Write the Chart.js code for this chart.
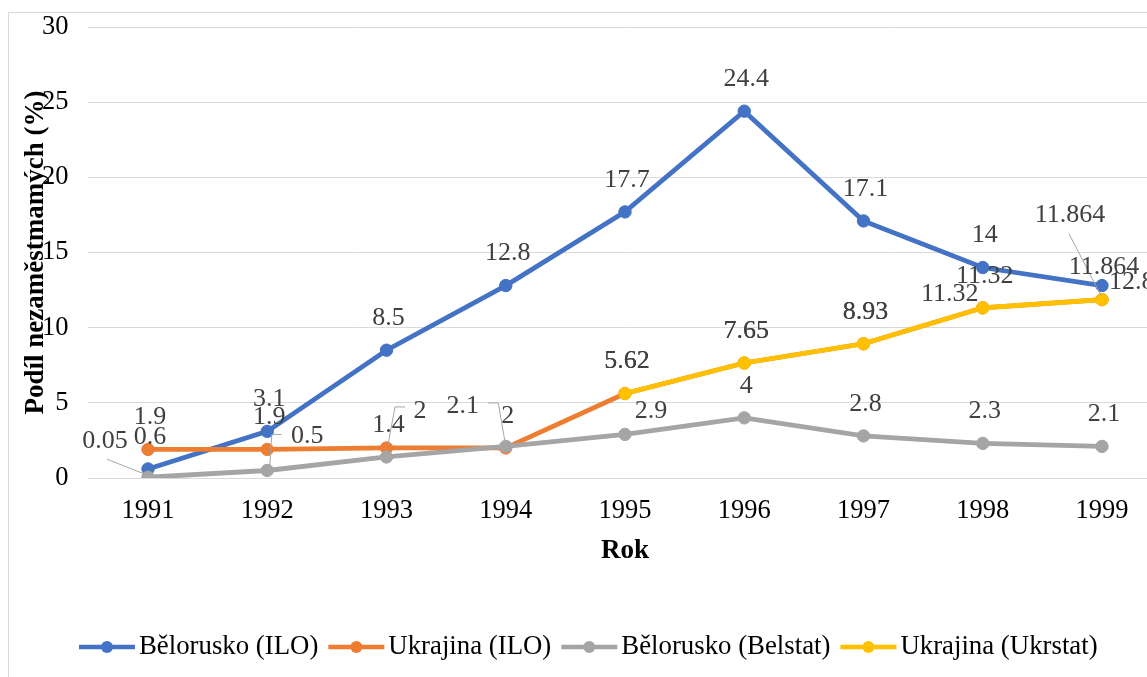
<!DOCTYPE html>
<html><head><meta charset="utf-8">
<script src="https://cdn.jsdelivr.net/npm/chart.js@4"></script>
<style>
html,body{margin:0;padding:0;overflow:hidden;background:#fff;width:1147px;height:677px}
#wrap{position:absolute;left:0;top:0;width:1180px;height:677px}
</style>
</head><body>
<div id="wrap"><canvas id="c" width="1180" height="677"></canvas></div>
<script>
// ---- data ----
const categories = ['1991','1992','1993','1994','1995','1996','1997','1998','1999'];
const seriesNames = ['Bělorusko (ILO)','Ukrajina (ILO)','Bělorusko (Belstat)','Ukrajina (Ukrstat)'];
const belarusILO     = [0.6, 3.1, 8.5, 12.8, 17.7, 24.4, 17.1, 14, 12.8];
const ukraineILO     = [1.9, 1.9, 2, 2, 5.62, 7.65, 8.93, 11.32, 11.864];
const belarusBelstat = [0.05, 0.5, 1.4, 2.1, 2.9, 4, 2.8, 2.3, 2.1];
const ukraineUkrstat = [null, null, null, null, 5.62, 7.65, 8.93, 11.32, 11.864];
const yTickMin = 0, yTickMax = 30, yTickStep = 5;

// ---- styling / label placement (not data) ----
const colors = ['#4472C4','#ED7D31','#A5A5A5','#FFC000'];
const SERIF = '"Liberation Serif","Times New Roman",serif';
const labelPlacement = {
  0: {8: {dx: 7, dy: -3.5, align: 'left'}},
  1: {2: {dx: 33.5, dy: -37, leader: [[18.5,-41],[8.5,-41],[1.5,-3]]},
      8: {dx: -32, dy: -84, leader: [[-33,-66],[-1,-4]]}},
  2: {0: {dx: -43, dy: -36, leader: [[-41,-18],[-3,-3]]},
      1: {dx: 40, dy: -34.5, leader: [[14.5,-36],[4.5,-36],[2.5,-3]]},
      3: {dx: -43, dy: -40.5, leader: [[-17.5,-43.5],[-7.5,-43.5],[-0.5,-3]]},
      4: {dx: 26, dy: -23.5}},
  3: {7: {dx: -33, dy: -14}}
};

const extras = {
  id: 'extras',
  beforeDraw(chart) {
    const ctx = chart.ctx;
    ctx.save();
    ctx.strokeStyle = '#d9d9d9'; ctx.lineWidth = 1;
    ctx.strokeRect(8.5, 12.5, 1300, 800);
    ctx.restore();
  },
  afterDatasetsDraw(chart) {
    const ctx = chart.ctx;
    ctx.save();
    ctx.font = '26px ' + SERIF;
    ctx.textBaseline = 'middle';
    chart.data.datasets.forEach((ds, di) => {
      const meta = chart.getDatasetMeta(di);
      meta.data.forEach((pt, i) => {
        const v = ds.data[i];
        if (v == null) return;
        const p = (labelPlacement[di] || {})[i] || {};
        const dx = p.dx ?? 2, dy = p.dy ?? -32;
        if (p.leader) {
          ctx.strokeStyle = '#a6a6a6'; ctx.lineWidth = 1;
          ctx.beginPath();
          p.leader.forEach(([lx, ly], k) => k ? ctx.lineTo(pt.x + lx, pt.y + ly) : ctx.moveTo(pt.x + lx, pt.y + ly));
          ctx.stroke();
        }
        ctx.fillStyle = '#404040';
        ctx.textAlign = p.align || 'center';
        ctx.fillText(String(v), pt.x + dx, pt.y + dy);
      });
    });
    ctx.restore();
  },
  afterDraw(chart) {
    const ctx = chart.ctx;
    ctx.save();
    ctx.font = '26.8px ' + SERIF;
    ctx.textBaseline = 'middle'; ctx.textAlign = 'left';
    const y = 647; let x = 79;
    chart.data.datasets.forEach(ds => {
      const c = ds.borderColor;
      ctx.strokeStyle = c; ctx.lineWidth = 4.5;
      ctx.beginPath(); ctx.moveTo(x, y); ctx.lineTo(x + 56, y); ctx.stroke();
      ctx.fillStyle = c; ctx.beginPath(); ctx.arc(x + 28, y, 6, 0, Math.PI * 2); ctx.fill();
      ctx.fillStyle = '#000';
      ctx.fillText(ds.label, x + 60, y);
      x += 60 + ctx.measureText(ds.label).width + 10;
    });
    ctx.restore();
  }
};

const seriesData = [belarusILO, ukraineILO, belarusBelstat, ukraineUkrstat];
const orders = [4, 3, 2, 1];
const datasets = seriesData.map((d, i) => ({
  label: seriesNames[i],
  data: d,
  borderColor: colors[i],
  backgroundColor: colors[i],
  pointBackgroundColor: colors[i],
  pointBorderColor: colors[i],
  pointBorderWidth: 1,
  pointRadius: 6.2,
  borderWidth: 4.8,
  tension: 0,
  spanGaps: false,
  order: orders[i]
}));

new Chart(document.getElementById('c'), {
  type: 'line',
  data: { labels: categories, datasets },
  plugins: [extras],
  options: {
    responsive: false,
    animation: false,
    layout: { padding: { left: 0, right: 18.4, top: 27, bottom: 106.8 } },
    plugins: { legend: { display: false }, tooltip: { enabled: false } },
    scales: {
      x: {
        type: 'category',
        offset: true,
        grid: { display: false, drawTicks: false },
        border: { display: false },
        ticks: { color: '#000', font: { family: SERIF, size: 26.5 }, padding: 17, maxRotation: 0, autoSkip: false },
        title: { display: true, text: 'Rok', color: '#000', font: { family: SERIF, size: 27, weight: 'bold' }, padding: { top: 0, bottom: 3 } },
        afterFit(s) { s.height = 92.2; }
      },
      y: {
        min: yTickMin, max: yTickMax,
        grid: { color: '#d9d9d9', lineWidth: 1, drawTicks: false },
        border: { display: false },
        ticks: { stepSize: yTickStep, color: '#000', font: { family: SERIF, size: 26.5 }, padding: 20 },
        title: { display: true, text: 'Podíl nezaměstmamých (%)', color: '#000', font: { family: SERIF, size: 27, weight: 'bold' }, padding: { top: 19.8, bottom: 0 } },
        afterFit(s) { s.width = 88.4; s.paddingTop = 10; s.paddingBottom = 10; }
      }
    }
  }
});
</script>
</body></html>
